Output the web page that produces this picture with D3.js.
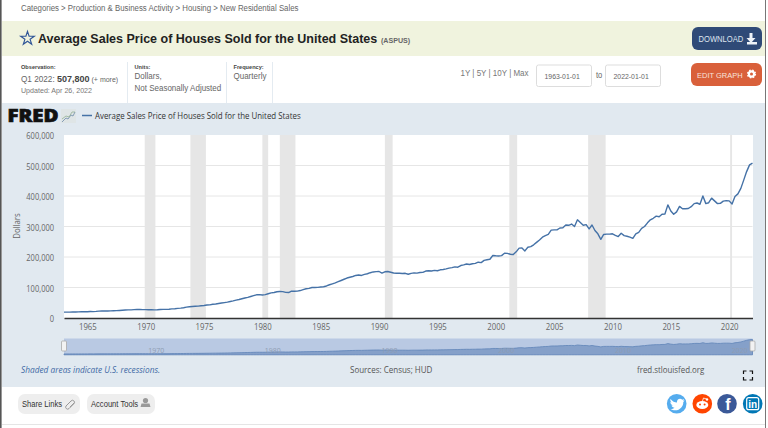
<!DOCTYPE html>
<html>
<head>
<meta charset="utf-8">
<script src="https://cdn.jsdelivr.net/npm/d3@7"></script>
<style>
  html, body { margin: 0; padding: 0; background: #fff; overflow: hidden; }
  svg { display: block; }
  text { font-family: "Liberation Sans", sans-serif; }
  .chart text { font-family: "Open Sans", sans-serif; }
</style>
</head>
<body>
<svg id="page" width="768" height="428"></svg>
<script>
// ASPUS, quarterly from 1963 Q1, one row per year
const prices = [
  19300, 19400, 19200, 19600,
  19600, 20200, 20500, 20900,
  20700, 21500, 21000, 21600,
  22600, 23200, 23000, 22800,
  23300, 23900, 24100, 24800,
  25600, 26400, 26600, 26800,
  27600, 28200, 28000, 27600,
  27500, 27000, 27200, 26500,
  27000, 28000, 28300, 28200,
  28800, 29800, 30500, 31500,
  32500, 33800, 35500, 36800,
  37800, 38500, 39000, 40000,
  41000, 42500, 43000, 45000,
  46000, 47500, 49000, 50500,
  52000, 54000, 56000, 58500,
  60500, 63000, 65500, 67500,
  70500, 73500, 76000, 76500,
  75500, 76500, 79500, 82500,
  83500, 86000, 87000, 86500,
  84000, 83500, 88000, 87500,
  88000, 90000, 93000, 96000,
  97000, 100000, 100000, 100500,
  101500, 102500, 105000, 109000,
  112000, 115000, 119000, 123000,
  127000, 131000, 133500, 136000,
  139500, 141000, 139500, 143000,
  145000, 148500, 151000, 152000,
  152500, 147000, 151500, 152500,
  150000, 147500, 146500, 146500,
  146000, 146500, 143500, 146500,
  148000, 147000, 149000, 149500,
  154000, 155000, 154000, 156000,
  155000, 158000, 159000, 161000,
  163500, 165000, 167500, 166500,
  172000, 174000, 177000, 175500,
  178000, 179000, 183000, 181500,
  189000, 191000, 192500, 205000,
  204000, 203500, 204500, 212500,
  212000, 209000, 208000, 217000,
  229000, 229500, 220000, 232000,
  234000, 240000, 248000, 256000,
  265000, 270000, 274000, 288000,
  289000, 289000, 295000, 296000,
  305000, 304000, 308000, 300000,
  322000, 313000, 304000, 306000,
  292000, 305000, 287000, 276000,
  258000, 274000, 275000, 275000,
  276000, 271000, 267000, 278000,
  270000, 268000, 265000, 261000,
  276000, 281000, 294000, 300000,
  312000, 322000, 327000, 334000,
  332000, 340000, 341000, 371000,
  351000, 340000, 348000, 366000,
  358000, 358000, 359000, 365000,
  375000, 377000, 373000, 400000,
  375000, 378000, 393000, 384000,
  375000, 376000, 383000, 385000,
  384000, 374000, 398000, 407000,
  425000, 452000, 480000, 502000,
  507800
];
const recessions = [
  ["1969-12-01", "1970-11-01"],
  ["1973-11-01", "1975-03-01"],
  ["1980-01-01", "1980-07-01"],
  ["1981-07-01", "1982-11-01"],
  ["1990-07-01", "1991-03-01"],
  ["2001-03-01", "2001-11-01"],
  ["2007-12-01", "2009-06-01"],
  ["2020-02-01", "2020-04-01"]
];
const yTicks = [0, 100000, 200000, 300000, 400000, 500000, 600000];
const xTickYears = [1965, 1970, 1975, 1980, 1985, 1990, 1995, 2000, 2005, 2010, 2015, 2020];
const navYears = [1970, 1980, 1990, 2000, 2010, 2020];
const rangeLinks = "1Y | 5Y | 10Y | Max";
const seriesTitle = "Average Sales Price of Houses Sold for the United States";

const svg = d3.select("#page");
const series = prices.map((v, i) => ({ date: new Date(1963, i * 3, 1), value: v }));

const x = d3.scaleTime()
  .domain([new Date(1963, 0, 1), new Date(2022, 0, 1)])
  .range([64, 752.5]);
const y = d3.scaleLinear().domain([0, 600000]).range([318, 135]);

function txt(g, s, px, py, size, fill, opts = {}) {
  return g.append("text").attr("x", px).attr("y", py)
    .attr("font-size", size).attr("fill", fill)
    .attr("font-weight", opts.weight || null)
    .attr("font-style", opts.style || null)
    .attr("text-anchor", opts.anchor || null)
    .text(s);
}

// page header
const head = svg.append("g");
head.append("rect").attr("x", 2).attr("y", 21).attr("width", 763).attr("height", 35).attr("fill", "#f0f3de");
txt(head, "Categories > Production & Business Activity > Housing > New Residential Sales", 21, 11, 7.85, "#666");
head.append("path")
  .attr("transform", "translate(27.5,38.5) scale(0.58)")
  .attr("d", d3.symbol(d3.symbolStar, 170)())
  .attr("fill", "none").attr("stroke", "#2f5597").attr("stroke-width", 2);
txt(head, seriesTitle, 38, 43, 12.5, "#222", { weight: "bold" }).attr("class", "logo");
txt(head, "(ASPUS)", 381, 43, 7.1, "#666", { weight: "bold" }).attr("class", "logo");

// download + edit buttons
head.append("rect").attr("x", 692).attr("y", 27).attr("width", 70).attr("height", 23).attr("rx", 6).attr("fill", "#2f4a77");
txt(head, "DOWNLOAD", 698.5, 42, 7.6, "#dfe5ef");
head.append("path").attr("fill", "#eef2f7")
  .attr("d", "M749.5 33h3v5h3l-4.500 5l-4.500-5h3z M747 42h10v2.500h-10z");
head.append("rect").attr("x", 691).attr("y", 63).attr("width", 71).attr("height", 23).attr("rx", 6).attr("fill", "#d9603b");
txt(head, "EDIT GRAPH", 697, 78, 7.5, "#f8e2da");
head.append("circle").attr("cx", 751.5).attr("cy", 74).attr("r", 2.6).attr("fill", "none").attr("stroke", "#fff").attr("stroke-width", 2.2);
head.append("circle").attr("cx", 751.5).attr("cy", 74).attr("r", 3.9).attr("fill", "none").attr("stroke", "#fff").attr("stroke-width", 1.4).attr("stroke-dasharray", "1.6 1.5");

// notes row
txt(head, "Observation:", 21, 68.5, 5.6, "#444", { weight: "bold" });
head.append("text").attr("x", 21).attr("y", 81.5).attr("font-size", 8.2).attr("fill", "#666")
  .call(t => {
    t.append("tspan").text("Q1 2022: ");
    t.append("tspan").attr("font-weight", "bold").attr("font-size", 9).attr("fill", "#444").text("507,800");
    t.append("tspan").attr("font-size", 7).attr("dx", 2).text("(+ more)");
  });
txt(head, "Updated: Apr 26, 2022", 21, 93, 7.1, "#777");
txt(head, "Units:", 134.5, 68.5, 5.6, "#444", { weight: "bold" });
txt(head, "Dollars,", 134.5, 79, 8, "#666");
txt(head, "Not Seasonally Adjusted", 134.5, 90.5, 8, "#666");
txt(head, "Frequency:", 233.5, 68.5, 5.6, "#444", { weight: "bold" });
txt(head, "Quarterly", 233.5, 79, 8, "#666");
[127.5, 226.5, 272.5].forEach(px => {
  head.append("line").attr("x1", px).attr("x2", px).attr("y1", 62).attr("y2", 103).attr("stroke", "#e4ebf1");
});
txt(head, rangeLinks, 460.5, 76, 8, "#777");
[[537, "1963-01-01"], [606, "2022-01-01"]].forEach(([px, s]) => {
  head.append("rect").attr("x", px - 0.5).attr("y", 65).attr("width", 55).attr("height", 21.5).attr("rx", 2)
    .attr("fill", "#fff").attr("stroke", "#ddd");
  txt(head, s, px + 7.5, 78.5, 6.9, "#666");
});
txt(head, "to", 596, 78, 7.6, "#666");

// chart band
const chart = svg.append("g").attr("class", "chart");
chart.append("rect").attr("x", 2).attr("y", 103).attr("width", 763).attr("height", 284).attr("fill", "#e1e9f0");
chart.append("rect").attr("x", x.range()[0]).attr("y", 135).attr("width", x.range()[1] - x.range()[0] + 0.5).attr("height", 183).attr("fill", "#fff");

// FRED logo and legend
txt(chart, "FRED", 7.5, 122, 17.5, "#111", { weight: "800" })
  .attr("class", "logo")
  .attr("stroke", "#111").attr("stroke-width", 0.7)
  .attr("textLength", 51).attr("lengthAdjust", "spacingAndGlyphs");
chart.append("rect").attr("x", 61).attr("y", 109).attr("width", 15).attr("height", 14).attr("fill", "#dfe5e6");
chart.append("path").attr("d", "M62 122l4-4l2 1l3-4l2 1l2-4").attr("fill", "none").attr("stroke", "#6d8aa9").attr("stroke-width", 0.8);
chart.append("path").attr("d", "M62 119l4-3l3 1l3-5l3 0").attr("fill", "none").attr("stroke", "#8aaa8a").attr("stroke-width", 0.7);
chart.append("line").attr("x1", 82).attr("x2", 92).attr("y1", 115.5).attr("y2", 115.5).attr("stroke", "#4572a7").attr("stroke-width", 1.5);
txt(chart, seriesTitle, 95, 118.5, 7.9, "#333");

// recessions
chart.append("g").selectAll("rect").data(recessions).join("rect")
  .attr("x", d => x(new Date(d[0])))
  .attr("y", 135)
  .attr("width", d => x(new Date(d[1])) - x(new Date(d[0])))
  .attr("height", 183)
  .attr("fill", "#e6e6e6");

// axes
const yAxis = chart.append("g").attr("transform", "translate(64,1)")
  .call(d3.axisLeft(y).tickValues(yTicks).tickFormat(d3.format(",")).tickSize(0).tickPadding(10));
yAxis.select(".domain").remove();
yAxis.selectAll("text").attr("font-size", 7.5).attr("fill", "#666").attr("font-family", "Open Sans");
chart.append("g").selectAll("line").data(yTicks.filter(d => d > 0 && d < 600000)).join("line")
  .attr("x1", x.range()[0]).attr("x2", x.range()[1])
  .attr("y1", d => y(d)).attr("y2", d => y(d))
  .attr("stroke", "#e6e6e6").attr("stroke-width", 1);

const xAxis = chart.append("g").attr("transform", "translate(0,318)")
  .call(d3.axisBottom(x).tickValues(xTickYears.map(d => new Date(d, 0, 1))).tickFormat(d3.timeFormat("%Y")).tickSize(0).tickPadding(6.5));
xAxis.select(".domain").attr("stroke", "#333").attr("stroke-width", 1.6);
xAxis.selectAll("text").attr("font-size", 7.8).attr("fill", "#666").attr("font-family", "Open Sans");

txt(chart, "Dollars", 0, 0, 7.8, "#666", { anchor: "middle" }).attr("transform", "translate(20,226) rotate(-90)");

// price line
chart.append("path").datum(series)
  .attr("fill", "none").attr("stroke", "#4572a7").attr("stroke-width", 1.4).attr("stroke-linejoin", "round")
  .attr("d", d3.line().x(d => x(d.date)).y(d => y(d.value)));

// navigator
const navY = d3.scaleLinear().domain([0, 507800]).range([354.5, 339.5]);
chart.append("rect").attr("x", x.range()[0]).attr("y", 338.5).attr("width", x.range()[1] - x.range()[0]).attr("height", 16.5).attr("fill", "#b9c9e3");
chart.append("path").datum(series).attr("fill", "#85a0c9").attr("stroke", "#5f84b8").attr("stroke-width", 0.8)
  .attr("d", d3.area().x(d => x(d.date)).y0(354.8).y1(d => navY(d.value)));
chart.append("g").selectAll("text").data(navYears).join("text")
  .attr("x", d => x(new Date(d, 0, 1)) + 10.5).attr("y", 352.5).attr("text-anchor", "middle")
  .attr("font-size", 7).attr("fill", "#8f9db3").text(d => d);
x.range().forEach(px => {
  chart.append("rect").attr("x", px - 2.5).attr("y", 341).attr("width", 5).attr("height", 10).attr("rx", 1)
    .attr("fill", "#f2f2f2").attr("stroke", "#aaa").attr("stroke-width", 0.8);
});

txt(chart, "Shaded areas indicate U.S. recessions.", 21, 373, 8.3, "#3f6aa5", { style: "italic" });
txt(chart, "Sources: Census; HUD", 350, 373, 8, "#555");
txt(chart, "fred.stlouisfed.org", 637, 373, 7.9, "#555");
chart.append("path").attr("fill", "none").attr("stroke", "#111").attr("stroke-width", 1.2)
  .attr("d", "M743.500 374v-3h3 M749.500 371h3v3 M752.500 377v3h-3 M746.500 380h-3v-3");

// footer
const foot = svg.append("g");
[[18, 62, "Share Links"], [87, 68, "Account Tools"]].forEach(([px, w, s]) => {
  foot.append("rect").attr("x", px).attr("y", 394).attr("width", w).attr("height", 20).attr("rx", 7).attr("fill", "#eee");
  txt(foot, s, px + 4, 406.5, 7.6, "#333").attr("font-family", "Inter");
});
foot.append("path").attr("fill", "none").attr("stroke", "#999").attr("stroke-width", 1)
  .attr("d", "M67 405l4-4a1.800 1.800 0 0 1 3 2.600l-5 5a2 2 0 0 1-3-2.600l1-1 M70 407l4-4");
foot.append("circle").attr("cx", 145.5).attr("cy", 400.5).attr("r", 2.6).attr("fill", "#999");
foot.append("path").attr("fill", "#999").attr("d", "M141.500 403.500h8l1 3.500h-10z");

// share buttons: twitter, reddit, facebook, linkedin
const social = [[676.7, "#55acee"], [702.3, "#ff4500"], [727, "#3b5998"], [752.7, "#0077b5"]];
social.forEach(([cx, color]) => {
  foot.append("circle").attr("cx", cx).attr("cy", 403.7).attr("r", 9.8).attr("fill", color);
});
foot.append("path").attr("fill", "#fff")
  .attr("d", "M670.500 399c2 2.500 4 3.500 6.500 3.600c-.4-2.400 1.300-3.900 3-3.900c1 0 1.700.4 2.200 1l1.900-.7l-1 1.800l1.600-.4l-1.400 1.500c.1 4.500-3.300 8.300-8 8.300c-1.900 0-3.400-.5-4.800-1.300c1.500.1 3-.3 4-1.200c-1.500-.1-2.500-1-3-2.300l1.300 0c-1.500-.5-2.500-1.700-2.500-3.300l1.400.4c-1.300-1-1.700-2.600-1.200-3.500z");
foot.append("ellipse").attr("cx", 702.3).attr("cy", 405).attr("rx", 6).attr("ry", 4).attr("fill", "#fff");
foot.append("circle").attr("cx", 707).attr("cy", 399.5).attr("r", 1.2).attr("fill", "#fff");
foot.append("path").attr("d", "M702.500 401l1-3l3 1").attr("fill", "none").attr("stroke", "#fff").attr("stroke-width", 0.8);
[700, 704.6].forEach(cx => foot.append("circle").attr("cx", cx).attr("cy", 404.4).attr("r", 1).attr("fill", "#ff4500"));
txt(foot, "f", 727.8, 409.5, 16, "#fff", { weight: "bold", anchor: "middle" }).attr("class", "logo");
foot.append("rect").attr("x", 746.7).attr("y", 397.7).attr("width", 12).attr("height", 12).attr("rx", 2).attr("fill", "none").attr("stroke", "#fff").attr("stroke-width", 1.2);
txt(foot, "in", 752.7, 407.5, 10, "#fff", { weight: "bold", anchor: "middle" }).attr("class", "logo");
foot.append("line").attr("x1", 2).attr("x2", 765).attr("y1", 424.5).attr("y2", 424.5).attr("stroke", "#e5e5e5");

// window edges
svg.append("rect").attr("x", 0).attr("y", 0).attr("width", 1.6).attr("height", 428).attr("fill", "#555");
svg.append("rect").attr("x", 765).attr("y", 0).attr("width", 1).attr("height", 428).attr("fill", "#777");

// reference type is taller than its width suggests: grow glyphs, keep the measured width
svg.selectAll("text").filter(function () {
  return !this.classList.contains("logo") && !this.querySelector("tspan");
}).each(function () {
  const w = this.getComputedTextLength();
  const s = d3.select(this);
  s.attr("font-size", +s.attr("font-size") * 1.08)
    .attr("textLength", w).attr("lengthAdjust", "spacingAndGlyphs");
});
</script>
</body>
</html>
